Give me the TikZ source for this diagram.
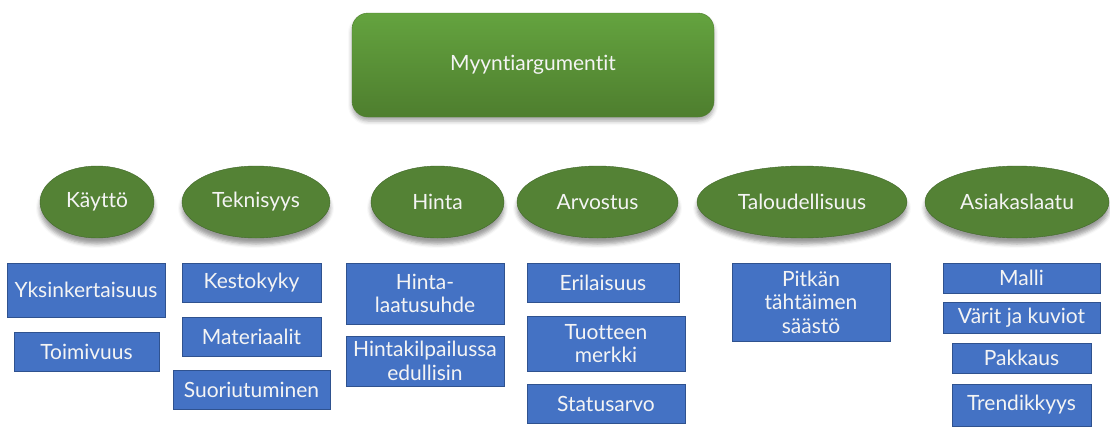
\documentclass[tikz,border=0pt]{standalone}
\usepackage{fontspec}
\setmainfont{Lato}[Ligatures=NoCommon]
\usetikzlibrary{shapes.geometric, shadows.blur}

\definecolor{vihrea}{HTML}{548235}
\definecolor{vihreareuna}{HTML}{41672A}
\definecolor{ylavihrea}{HTML}{64A33F}
\definecolor{alavihrea}{HTML}{4E7E2E}
\definecolor{sininen}{HTML}{4472C4}
\definecolor{sinireuna}{HTML}{2F528F}
\definecolor{teksti}{HTML}{F4F4F4}

\begin{document}
\begin{tikzpicture}[x=1pt, y=-1pt,
    otsikko/.style={rectangle, rounded corners=16pt, draw=alavihrea,
      top color=ylavihrea, bottom color=alavihrea, text=teksti,
      font=\fontsize{21}{24}\selectfont,
      blur shadow={shadow xshift=0pt, shadow yshift=-4pt, shadow blur radius=4pt, shadow opacity=35}},
    aihe/.style={ellipse, draw=vihreareuna, fill=vihrea, text=teksti,
      inner sep=0pt, minimum height=72pt, font=\fontsize{21}{24}\selectfont,
      blur shadow={shadow xshift=0pt, shadow yshift=-6pt, shadow blur radius=4pt, shadow opacity=40}},
    peruste/.style={rectangle, draw=sinireuna, fill=sininen, text=teksti,
      align=center, inner sep=0pt, font=\fontsize{21}{23.5}\selectfont}]

    \useasboundingbox (0,0) rectangle (1110,426);

    % Top box
    \node[otsikko, minimum width=362pt, minimum height=104pt] (myynti) at (533,65) {Myyntiargumentit};

    % Themes
    \node[aihe, minimum width=114pt] (kaytto) at (97,202) {Käyttö};
    \node[aihe, minimum width=148pt] (teknisyys) at (256,202) {Teknisyys};
    \node[aihe, minimum width=133pt] (hinta) at (437.5,202) {Hinta};
    \node[aihe, minimum width=161pt] (arvostus) at (597.5,202) {Arvostus};
    \node[aihe, minimum width=210pt] (talous) at (802,202) {Taloudellisuus};
    \node[aihe, minimum width=184pt] (asiakas) at (1017,202) {Asiakaslaatu};

    % Arguments under Käyttö
    \node[peruste, minimum width=158pt, minimum height=54pt] (yksinkertaisuus) at (86,290) {Yksinkertaisuus};
    \node[peruste, minimum width=145pt, minimum height=39pt] (toimivuus) at (86.5,351.5) {Toimivuus};

    % Arguments under Teknisyys
    \node[peruste, minimum width=139pt, minimum height=39pt] (kestokyky) at (251.5,282.5) {Kestokyky};
    \node[peruste, minimum width=139pt, minimum height=39pt] (materiaalit) at (251.5,336.5) {Materiaalit};
    \node[peruste, minimum width=157pt, minimum height=39pt] (suoriutuminen) at (251.5,389.5) {Suoriutuminen};

    % Arguments under Hinta
    \node[peruste, minimum width=158pt, minimum height=61pt] (laatusuhde) at (425,293.5) {Hinta-\\laatusuhde};
    \node[peruste, minimum width=158pt, minimum height=50pt] (kilpailu) at (425,361) {Hintakilpailussa\\edullisin};

    % Arguments under Arvostus
    \node[peruste, minimum width=152pt, minimum height=39pt] (erilaisuus) at (603,282.5) {Erilaisuus};
    \node[peruste, minimum width=158pt, minimum height=55pt] (merkki) at (606,343.5) {Tuotteen\\merkki};
    \node[peruste, minimum width=158pt, minimum height=39pt] (statusarvo) at (606,403.5) {Statusarvo};

    % Arguments under Taloudellisuus
    \node[peruste, minimum width=158pt, minimum height=78pt] (saasto) at (811,302) {Pitkän\\tähtäimen\\säästö};

    % Arguments under Asiakaslaatu
    \node[peruste, minimum width=157pt, minimum height=30pt] (malli) at (1021.5,278) {Malli};
    \node[peruste, minimum width=157pt, minimum height=31pt] (varit) at (1021.5,317.5) {Värit ja kuviot};
    \node[peruste, minimum width=139pt, minimum height=30pt] (pakkaus) at (1021.5,358) {Pakkaus};
    \node[peruste, minimum width=139pt, minimum height=42pt] (trendi) at (1021.5,405) {Trendikkyys};
\end{tikzpicture}
\end{document}
